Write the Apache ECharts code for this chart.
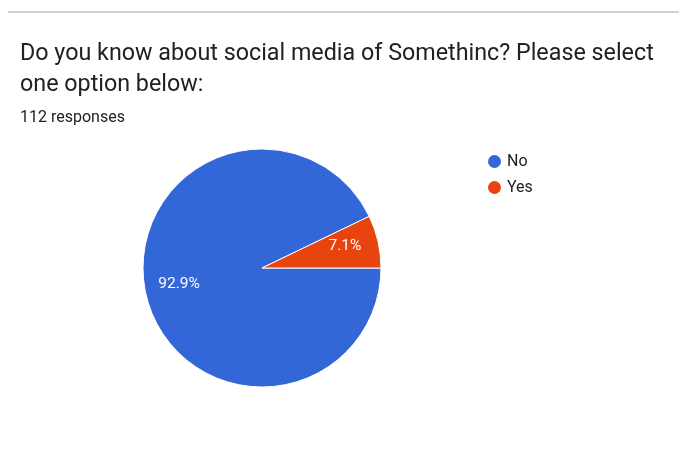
<!DOCTYPE html>
<html><head><meta charset="utf-8">
<script src="https://cdn.jsdelivr.net/npm/echarts@6/dist/echarts.min.js"></script>
<style>html,body{margin:0;padding:0;background:#fff}#c{width:679px;height:456px}</style>
</head><body><div id="c"></div>
<script>
const categories = ['No', 'Yes'];
const values = [104, 8];
const colors = ['#3366d6', '#e8440f'];
const titleText = 'Do you know about social media of Somethinc? Please select\none option below:';
const subText = '112 responses';

const cx = 262, cy = 268, R = 119;
const chart = echarts.init(document.getElementById('c'));
chart.setOption({
  animation: false,
  title: {
    text: titleText,
    subtext: subText,
    left: 20, top: 39, padding: 0,
    itemGap: 9,
    textStyle: {fontFamily: 'Roboto', fontSize: 23.3, fontWeight: 'normal', color: '#202124', lineHeight: 31},
    subtextStyle: {fontFamily: 'Roboto', fontSize: 16, color: '#202124'}
  },
  legend: {
    orient: 'vertical', left: 486, top: 153, padding: 0,
    icon: 'circle', itemWidth: 15, itemHeight: 15, itemGap: 9,
    textStyle: {fontFamily: 'Roboto', fontSize: 16, color: '#202124'},
    data: categories
  },
  graphic: [{type: 'line', shape: {x1: 8, y1: 12, x2: 679, y2: 12}, style: {stroke: '#cfcfcf', lineWidth: 2}}],
  series: [{
    type: 'pie',
    center: [cx, cy], radius: [0, R],
    startAngle: 0, clockwise: true,
    itemStyle: {borderColor: '#fff', borderWidth: 1},
    label: {position: 'inside', formatter: p => p.percent.toFixed(1) + '%', color: '#fff', fontFamily: 'Roboto', fontSize: 15.5},
    labelLayout: function (p) {
      const r = p.labelRect;
      const lx = r.x + r.width / 2, ly = r.y + r.height / 2;
      const k = 0.36;
      return {dx: (lx - cx) * k, dy: (ly - cy) * k - 3};
    },
    labelLine: {show: false},
    emphasis: {disabled: true},
    data: categories.map((n, i) => ({name: n, value: values[i], itemStyle: {color: colors[i]}}))
  }]
});
</script></body></html>
